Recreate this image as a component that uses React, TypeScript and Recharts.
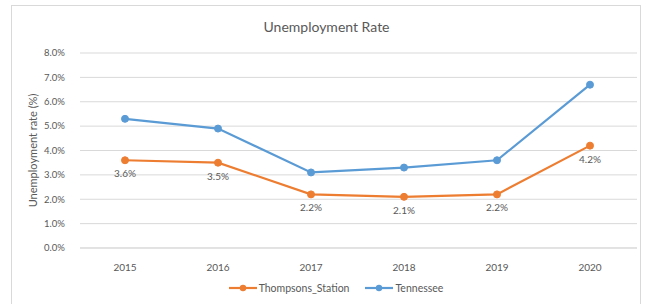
import { CartesianGrid, LabelList, Legend, Line, LineChart, XAxis, YAxis } from 'recharts'

const years = ['2015', '2016', '2017', '2018', '2019', '2020']
const thompsonsStation = [3.6, 3.5, 2.2, 2.1, 2.2, 4.2]
const tennessee = [5.3, 4.9, 3.1, 3.3, 3.6, 6.7]
const yTicks = [0, 1, 2, 3, 4, 5, 6, 7, 8]

const data = years.map((year, i) => ({
  year,
  thompsons: thompsonsStation[i],
  tennessee: tennessee[i],
}))

const FONT = 'Lato, "Open Sans", sans-serif'
const TEXT = '#595959'
const ORANGE = '#ED7D31'
const BLUE = '#5B9BD5'

const series = [
  { key: 'thompsons', name: 'Thompsons_Station', color: ORANGE },
  { key: 'tennessee', name: 'Tennessee', color: BLUE },
]

function LegendContent() {
  return (
    <div style={{ display: 'flex', justifyContent: 'center', gap: 16, fontFamily: FONT, fontSize: 10.5, color: TEXT }}>
      {series.map((s) => (
        <div key={s.key} style={{ display: 'flex', alignItems: 'center' }}>
          <svg width={28} height={10} style={{ marginRight: 2 }}>
            <line x1={0} y1={5} x2={28} y2={5} stroke={s.color} strokeWidth={2.2} />
            <circle cx={14} cy={5} r={3.2} fill={s.color} />
          </svg>
          <span>{s.name}</span>
        </div>
      ))}
    </div>
  )
}

export default function App() {
  return (
    <div style={{ position: 'absolute', left: 0, top: 0, width: 652, height: 304, background: '#fff' }}>
      <div
        style={{
          position: 'absolute',
          left: 11,
          top: 5,
          width: 630,
          height: 310,
          border: '1px solid #D9D9D9',
          boxSizing: 'border-box',
        }}
      />
      <div
        style={{
          position: 'absolute',
          left: 11,
          width: 631,
          top: 18,
          textAlign: 'center',
          fontFamily: FONT,
          fontSize: 14,
          color: TEXT,
        }}
      >
        Unemployment Rate
      </div>
      <div style={{ position: 'absolute', left: 0, top: 0 }}>
        <LineChart width={652} height={304} data={data} margin={{ top: 53, right: 15, bottom: 6, left: 35 }}>
          <CartesianGrid vertical={false} stroke="#D9D9D9" />
          <XAxis
            dataKey="year"
            axisLine={{ stroke: '#D9D9D9' }}
            tickLine={false}
            padding={{ left: 45, right: 47 }}
            tick={{ fontSize: 10, fill: TEXT, fontFamily: FONT }}
            tickMargin={10}
            height={34}
          />
          <YAxis
            domain={[0, 8]}
            ticks={yTicks}
            width={45}
            axisLine={false}
            tickLine={false}
            tickMargin={9}
            tickFormatter={(v: number) => `${v.toFixed(1)}%`}
            tick={{ fontSize: 9.5, fill: TEXT, fontFamily: FONT }}
            label={{
              value: 'Unemployment rate (%)',
              angle: -90,
              position: 'insideLeft',
              offset: -2,
              style: { textAnchor: 'middle', fontSize: 11, fill: TEXT, fontFamily: FONT },
            }}
          />
          <Legend verticalAlign="bottom" height={16} content={<LegendContent />} />
          <Line
            dataKey="thompsons"
            name="Thompsons_Station"
            stroke={ORANGE}
            strokeWidth={2.2}
            dot={{ r: 3.5, fill: ORANGE, stroke: ORANGE, strokeWidth: 1 }}
            isAnimationActive={false}
          >
            <LabelList
              dataKey="thompsons"
              position="bottom"
              offset={10}
              formatter={(v: number) => `${v.toFixed(1)}%`}
              style={{ fontSize: 10, fill: TEXT, fontFamily: FONT }}
            />
          </Line>
          <Line
            dataKey="tennessee"
            name="Tennessee"
            stroke={BLUE}
            strokeWidth={2.2}
            dot={{ r: 3.5, fill: BLUE, stroke: BLUE, strokeWidth: 1 }}
            isAnimationActive={false}
          />
        </LineChart>
      </div>
    </div>
  )
}
